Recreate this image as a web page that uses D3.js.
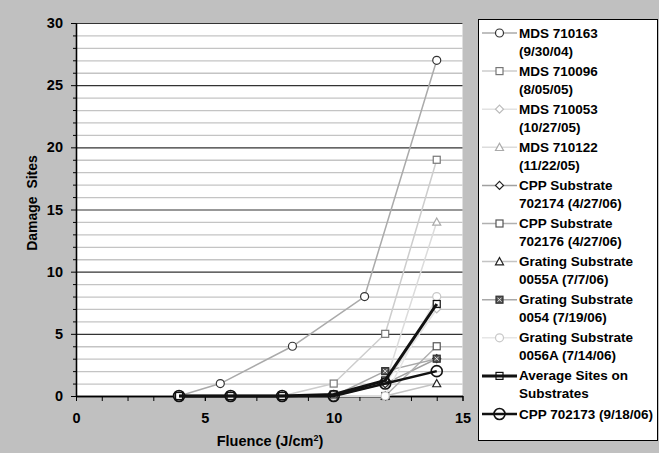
<!DOCTYPE html>
<html><head><meta charset="utf-8">
<script src="https://cdn.jsdelivr.net/npm/d3@7"></script>
<style>
html,body{margin:0;padding:0;background:#c0c0c0;}
svg{display:block;font-family:"Liberation Sans",Arial,sans-serif;font-weight:bold;}
</style></head><body>
<svg id="chart" width="659" height="453"></svg>
<script>
// ---- data ----
const xSub = [4, 6, 8, 10, 12, 14];
const xMds163 = [4, 5.6, 8.4, 11.2, 14];
const mds710163 = [0, 1, 4, 8, 27];
const mds710096 = [0, 0, 0, 1, 5, 19];
const mds710053 = [0, 0, 0, 0, 1, 7];
const mds710122 = [0, 0, 0, 0, 1, 14];
const cpp702174 = [0, 0, 0, 0, 1, 3];
const cpp702176 = [0, 0, 0, 0, 0, 4];
const grating0055A = [0, 0, 0, 0, 0, 1];
const grating0054 = [0, 0, 0, 0, 2, 3];
const grating0056A = [0, 0, 0, 0, 0, 8];
const averageSites = [0, 0, 0, 0.125, 1.25, 7.4];
const cpp702173 = [0, 0, 0, 0, 1, 2];
const xTicks = [0, 5, 10, 15];
const yTicks = [0, 5, 10, 15, 20, 25, 30];

const series = [
  {label:["MDS 710163","(9/30/04)"], xs:xMds163, ys:mds710163, line:"#aaaaaa", lw:1.5, sym:"circle", stroke:"#333", fill:"#fff", size:4},
  {label:["MDS 710096","(8/05/05)"], xs:xSub, ys:mds710096, line:"#cdcdcd", lw:1.5, sym:"square", stroke:"#777", fill:"#fff", size:4},
  {label:["MDS 710053","(10/27/05)"], xs:xSub, ys:mds710053, line:"#e2e2e2", lw:1.5, sym:"diamond", stroke:"#bbb", fill:"#fff", size:4},
  {label:["MDS 710122","(11/22/05)"], xs:xSub, ys:mds710122, line:"#dcdcdc", lw:1.5, sym:"triangle", stroke:"#aaa", fill:"#fff", size:4},
  {label:["CPP Substrate","702174 (4/27/06)"], xs:xSub, ys:cpp702174, line:"#a0a0a0", lw:1.5, sym:"diamond", stroke:"#222", fill:"#fff", size:4},
  {label:["CPP Substrate","702176 (4/27/06)"], xs:xSub, ys:cpp702176, line:"#b0b0b0", lw:1.5, sym:"square", stroke:"#555", fill:"#fff", size:4},
  {label:["Grating Substrate","0055A (7/7/06)"], xs:xSub, ys:grating0055A, line:"#c4c4c4", lw:1.5, sym:"triangle", stroke:"#222", fill:"#fff", size:4},
  {label:["Grating Substrate","0054 (7/19/06)"], xs:xSub, ys:grating0054, line:"#a8a8a8", lw:1.5, sym:"hatch", stroke:"#333", fill:"#555", size:4},
  {label:["Grating Substrate","0056A (7/14/06)"], xs:xSub, ys:grating0056A, line:"#e6e6e6", lw:1.5, sym:"circle", stroke:"#c8c8c8", fill:"#fff", size:4},
  {label:["Average Sites on","Substrates"], xs:xSub, ys:averageSites, line:"#111", lw:3, sym:"square", stroke:"#111", fill:"none", size:4},
  {label:["CPP 702173 (9/18/06)"], xs:xSub, ys:cpp702173, line:"#111", lw:2.5, sym:"circle", stroke:"#111", fill:"none", size:5.5}
];

const svg = d3.select("#chart");
const L = 76, R = 462.5, T = 23, B = 396;
const x = d3.scaleLinear().domain([0, 15]).range([L, R]);
const y = d3.scaleLinear().domain([0, 30]).range([B, T]);

svg.append("rect").attr("width",659).attr("height",453).attr("fill","#c0c0c0");
svg.append("rect").attr("x",L).attr("y",T).attr("width",R-L).attr("height",B-T).attr("fill","#fff");

// grid
const minor = d3.range(1, 30).filter(v => v % 5 !== 0);
svg.append("g").selectAll("line").data(minor).join("line")
  .attr("x1",L).attr("x2",R).attr("y1",d=>y(d)+0.5).attr("y2",d=>y(d)+0.5)
  .attr("stroke","#c4c4c4").attr("stroke-width",1.3);
svg.append("g").selectAll("line").data(yTicks.filter(v=>v>0)).join("line")
  .attr("x1",L).attr("x2",R).attr("y1",d=>y(d)+0.5).attr("y2",d=>y(d)+0.5)
  .attr("stroke","#333").attr("stroke-width",1.2);

// axes
const yAxis = svg.append("g").attr("transform",`translate(${L},0)`)
  .call(d3.axisLeft(y).tickValues(yTicks).tickSize(5).tickPadding(8).tickSizeOuter(0));
const yMinor = svg.append("g").attr("transform",`translate(${L},0)`)
  .call(d3.axisLeft(y).tickValues(minor).tickSize(3).tickFormat("").tickSizeOuter(0));
const xAxis = svg.append("g").attr("transform",`translate(0,${B})`)
  .call(d3.axisBottom(x).tickValues(xTicks).tickSize(5).tickPadding(12).tickSizeOuter(0));
const xMinor = svg.append("g").attr("transform",`translate(0,${B})`)
  .call(d3.axisBottom(x).tickValues(d3.range(0,16)).tickSize(5).tickFormat("").tickSizeOuter(0));
[yAxis,yMinor,xAxis,xMinor].forEach(g=>{
  g.selectAll("path").attr("stroke","#000").attr("stroke-width",1.3);
  g.selectAll("line").attr("stroke","#000");
  g.selectAll("text").attr("font-size","14.5px").attr("font-weight","bold").attr("fill","#000")
   .attr("font-family","'Liberation Sans',Arial,sans-serif");
});

// axis titles
const xt = svg.append("text").attr("x",270).attr("y",446).attr("text-anchor","middle").attr("font-size","14.5px");
xt.append("tspan").text("Fluence (J/cm");
xt.append("tspan").attr("baseline-shift","super").attr("font-size","9px").text("2");
xt.append("tspan").text(")");
svg.append("text").attr("transform","translate(37,203) rotate(-90)").attr("text-anchor","middle")
  .attr("font-size","14px").style("white-space","pre").text("Damage  Sites");

// marker drawing
function drawMarker(g, s, cx, cy) {
  const r = s.size;
  if (s.sym === "circle") {
    g.append("circle").attr("cx",cx).attr("cy",cy).attr("r",r)
      .attr("fill",s.fill).attr("stroke",s.stroke).attr("stroke-width",s.size>5?1.6:1.2);
  } else if (s.sym === "square" || s.sym === "hatch") {
    g.append("rect").attr("x",cx-r+0.5).attr("y",cy-r+0.5).attr("width",2*r-1).attr("height",2*r-1)
      .attr("fill",s.fill).attr("stroke",s.stroke).attr("stroke-width",1.2);
    if (s.sym === "hatch") {
      g.append("path").attr("d",`M${cx-r+2},${cy-r+2}L${cx+r-2},${cy+r-2}M${cx+r-2},${cy-r+2}L${cx-r+2},${cy+r-2}`)
        .attr("stroke","#ddd").attr("stroke-width",1);
    }
  } else if (s.sym === "diamond") {
    g.append("path").attr("d",`M${cx},${cy-r}L${cx+r},${cy}L${cx},${cy+r}L${cx-r},${cy}Z`)
      .attr("fill",s.fill).attr("stroke",s.stroke).attr("stroke-width",1.2);
  } else if (s.sym === "triangle") {
    g.append("path").attr("d",`M${cx},${cy-r}L${cx+r},${cy+r*0.8}L${cx-r},${cy+r*0.8}Z`)
      .attr("fill",s.fill).attr("stroke",s.stroke).attr("stroke-width",1.2);
  }
}

// series
const lineGen = d3.line().x(d=>x(d[0])).y(d=>y(d[1]));
series.forEach(s => {
  const pts = s.xs.map((v,i)=>[v, s.ys[i]]);
  const g = svg.append("g");
  g.append("path").attr("d",lineGen(pts)).attr("fill","none")
    .attr("stroke",s.line).attr("stroke-width",s.lw).attr("stroke-linejoin","round");
  pts.forEach(p => drawMarker(g, s, x(p[0]), y(p[1])));
});

// legend
svg.append("rect").attr("x",478.5).attr("y",19.5).attr("width",179).attr("height",421)
  .attr("fill","#fff").attr("stroke","#000").attr("stroke-width",1);
series.forEach((s,i) => {
  const base = 37.5 + i*38.1;
  const cy = base - 4.5;
  const g = svg.append("g");
  g.append("line").attr("x1",482).attr("x2",517).attr("y1",cy).attr("y2",cy)
    .attr("stroke",s.line).attr("stroke-width",s.lw);
  drawMarker(g, s, 499.5, cy);
  const t = g.append("text").attr("x",519).attr("y",base).attr("font-size","13.5px");
  s.label.forEach((ln,j)=>{
    t.append("tspan").attr("x",519).attr("dy", j===0?0:18).text(ln);
  });
});
</script>
</body></html>
